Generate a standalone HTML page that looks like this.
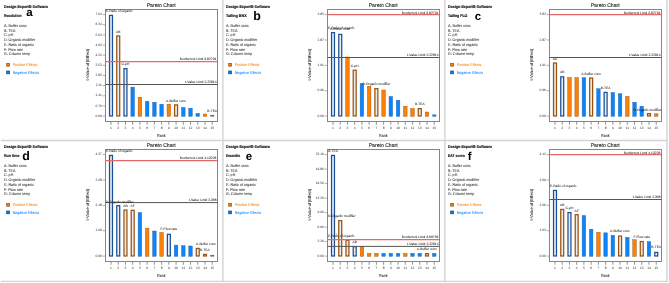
<!DOCTYPE html>
<html><head><meta charset="utf-8"><style>
html,body{margin:0;padding:0;background:#fff;width:669px;height:283px;overflow:hidden}
svg{display:block;will-change:transform}
text{font-family:"Liberation Sans", sans-serif;fill:#222;text-rendering:geometricPrecision}
.hb{font-size:3.95px;font-weight:bold;fill:#111;stroke:#111;stroke-width:0.15px}
.let{font-size:11.5px;font-weight:bold;fill:#000}
.sm{font-size:3.3px;fill:#1e1e1e;stroke:#1e1e1e;stroke-width:0.035px}
.li{font-size:3.95px;fill:#2a2a2a;stroke:#2a2a2a;stroke-width:0.04px}
.tk{font-size:3.3px;fill:#333}
.lim{font-size:3.36px;fill:#222;stroke:#222;stroke-width:0.04px}
.ttl{font-size:5.45px;fill:#1a1a1a;stroke:#1a1a1a;stroke-width:0.1px}
.ax{font-size:4.2px;fill:#1e1e1e;stroke:#1e1e1e;stroke-width:0.04px}
</style></head><body>
<svg width="669" height="283" viewBox="0 0 669 283">
<rect width="669" height="283" fill="#fff"/>
<g transform="translate(0,0)">
<text x="4" y="7.7" class="hb" textLength="44" lengthAdjust="spacingAndGlyphs">Design-Expert® Software</text>
<text x="4" y="16.9" class="hb" textLength="17.6" lengthAdjust="spacingAndGlyphs">Resolution</text>
<text x="26.299999999999997" y="15.9" class="let" style="font-size:11.5px">a</text>
<text x="4" y="26.75" class="li" textLength="22.67" lengthAdjust="spacingAndGlyphs">A: Buffer conc</text>
<text x="4" y="31.52" class="li" textLength="11.40" lengthAdjust="spacingAndGlyphs">B: TEA</text>
<text x="4" y="36.29" class="li" textLength="9.25" lengthAdjust="spacingAndGlyphs">C: pH</text>
<text x="4" y="41.06" class="li" textLength="31.18" lengthAdjust="spacingAndGlyphs">D: Organic modifier</text>
<text x="4" y="45.83" class="li" textLength="29.78" lengthAdjust="spacingAndGlyphs">E: Ratio of organic</text>
<text x="4" y="50.60" class="li" textLength="19.11" lengthAdjust="spacingAndGlyphs">F: Flow rate</text>
<text x="4" y="55.37" class="li" textLength="26.35" lengthAdjust="spacingAndGlyphs">G: Column temp</text>
<rect x="6.7" y="63.4" width="2.8" height="2.8" fill="#fb8005" stroke="#8a4a10" stroke-width="0.7"/>
<text x="12.7" y="66.0" class="li" style="fill:#fb8005;stroke:#fb8005" textLength="24.68" lengthAdjust="spacingAndGlyphs">Positive Effects</text>
<rect x="6.7" y="71.0" width="2.8" height="2.8" fill="#0a84fa" stroke="#0d3c80" stroke-width="0.7"/>
<text x="12.7" y="73.8" class="li" style="fill:#0a84fa;stroke:#0a84fa" textLength="26.29" lengthAdjust="spacingAndGlyphs">Negative Effects</text>
<text x="146.7" y="6.9" class="ttl" textLength="29" lengthAdjust="spacingAndGlyphs">Pareto Chart</text>
<rect x="105.5" y="9.5" width="112" height="112" fill="#fff" stroke="#858585" stroke-width="1"/>
<text x="101.9" y="15.20" class="tk" text-anchor="end">7.04</text>
<line x1="102.6" y1="14.60" x2="105" y2="14.60" stroke="#777" stroke-width="0.6"/>
<text x="101.9" y="25.35" class="tk" text-anchor="end">6.34</text>
<line x1="102.6" y1="24.75" x2="105" y2="24.75" stroke="#777" stroke-width="0.6"/>
<text x="101.9" y="35.50" class="tk" text-anchor="end">5.63</text>
<line x1="102.6" y1="34.90" x2="105" y2="34.90" stroke="#777" stroke-width="0.6"/>
<text x="101.9" y="45.65" class="tk" text-anchor="end">4.93</text>
<line x1="102.6" y1="45.05" x2="105" y2="45.05" stroke="#777" stroke-width="0.6"/>
<text x="101.9" y="55.80" class="tk" text-anchor="end">4.22</text>
<line x1="102.6" y1="55.20" x2="105" y2="55.20" stroke="#777" stroke-width="0.6"/>
<text x="101.9" y="65.95" class="tk" text-anchor="end">3.52</text>
<line x1="102.6" y1="65.35" x2="105" y2="65.35" stroke="#777" stroke-width="0.6"/>
<text x="101.9" y="76.10" class="tk" text-anchor="end">2.82</text>
<line x1="102.6" y1="75.50" x2="105" y2="75.50" stroke="#777" stroke-width="0.6"/>
<text x="101.9" y="86.25" class="tk" text-anchor="end">2.11</text>
<line x1="102.6" y1="85.65" x2="105" y2="85.65" stroke="#777" stroke-width="0.6"/>
<text x="101.9" y="96.40" class="tk" text-anchor="end">1.41</text>
<line x1="102.6" y1="95.80" x2="105" y2="95.80" stroke="#777" stroke-width="0.6"/>
<text x="101.9" y="106.55" class="tk" text-anchor="end">0.70</text>
<line x1="102.6" y1="105.95" x2="105" y2="105.95" stroke="#777" stroke-width="0.6"/>
<text x="101.9" y="116.70" class="tk" text-anchor="end">0.00</text>
<line x1="102.6" y1="116.10" x2="105" y2="116.10" stroke="#777" stroke-width="0.6"/>
<rect x="109.53" y="15.43" width="2.95" height="100.55" fill="#ececec" stroke="#1a4f9c" stroke-width="1.25"/>
<line x1="111.00" y1="122" x2="111.00" y2="124.8" stroke="#666" stroke-width="0.7"/>
<text x="111.00" y="128.6" class="tk" text-anchor="middle">1</text>
<rect x="116.76" y="35.92" width="2.95" height="80.05" fill="#ececec" stroke="#9a5210" stroke-width="1.25"/>
<line x1="118.23" y1="122" x2="118.23" y2="124.8" stroke="#666" stroke-width="0.7"/>
<text x="118.23" y="128.6" class="tk" text-anchor="middle">2</text>
<rect x="123.99" y="68.62" width="2.95" height="47.35" fill="#ececec" stroke="#1a4f9c" stroke-width="1.25"/>
<line x1="125.46" y1="122" x2="125.46" y2="124.8" stroke="#666" stroke-width="0.7"/>
<text x="125.46" y="128.6" class="tk" text-anchor="middle">3</text>
<rect x="130.89" y="87.10" width="3.6" height="29.30" fill="#0a84fa" stroke="#2a64b0" stroke-width="0.4"/>
<line x1="132.69" y1="122" x2="132.69" y2="124.8" stroke="#666" stroke-width="0.7"/>
<text x="132.69" y="128.6" class="tk" text-anchor="middle">4</text>
<rect x="138.12" y="97.20" width="3.6" height="19.20" fill="#fb8005" stroke="#9a5010" stroke-width="0.4"/>
<line x1="139.92" y1="122" x2="139.92" y2="124.8" stroke="#666" stroke-width="0.7"/>
<text x="139.92" y="128.6" class="tk" text-anchor="middle">5</text>
<rect x="145.35" y="101.20" width="3.6" height="15.20" fill="#0a84fa" stroke="#2a64b0" stroke-width="0.4"/>
<line x1="147.15" y1="122" x2="147.15" y2="124.8" stroke="#666" stroke-width="0.7"/>
<text x="147.15" y="128.6" class="tk" text-anchor="middle">6</text>
<rect x="152.58" y="102.20" width="3.6" height="14.20" fill="#0a84fa" stroke="#2a64b0" stroke-width="0.4"/>
<line x1="154.38" y1="122" x2="154.38" y2="124.8" stroke="#666" stroke-width="0.7"/>
<text x="154.38" y="128.6" class="tk" text-anchor="middle">7</text>
<rect x="159.81" y="104.20" width="3.6" height="12.20" fill="#0a84fa" stroke="#2a64b0" stroke-width="0.4"/>
<line x1="161.61" y1="122" x2="161.61" y2="124.8" stroke="#666" stroke-width="0.7"/>
<text x="161.61" y="128.6" class="tk" text-anchor="middle">8</text>
<rect x="167.04" y="104.20" width="3.6" height="12.20" fill="#fb8005" stroke="#9a5010" stroke-width="0.4"/>
<line x1="168.84" y1="122" x2="168.84" y2="124.8" stroke="#666" stroke-width="0.7"/>
<text x="168.84" y="128.6" class="tk" text-anchor="middle">9</text>
<rect x="174.59" y="104.92" width="2.95" height="11.05" fill="#ececec" stroke="#9a5210" stroke-width="1.25"/>
<line x1="176.07" y1="122" x2="176.07" y2="124.8" stroke="#666" stroke-width="0.7"/>
<text x="176.07" y="128.6" class="tk" text-anchor="middle">10</text>
<rect x="181.50" y="107.40" width="3.6" height="9.00" fill="#0a84fa" stroke="#2a64b0" stroke-width="0.4"/>
<line x1="183.30" y1="122" x2="183.30" y2="124.8" stroke="#666" stroke-width="0.7"/>
<text x="183.30" y="128.6" class="tk" text-anchor="middle">11</text>
<rect x="188.73" y="108.20" width="3.6" height="8.20" fill="#0a84fa" stroke="#2a64b0" stroke-width="0.4"/>
<line x1="190.53" y1="122" x2="190.53" y2="124.8" stroke="#666" stroke-width="0.7"/>
<text x="190.53" y="128.6" class="tk" text-anchor="middle">12</text>
<rect x="195.96" y="113.40" width="3.6" height="3.00" fill="#0a84fa" stroke="#2a64b0" stroke-width="0.4"/>
<line x1="197.76" y1="122" x2="197.76" y2="124.8" stroke="#666" stroke-width="0.7"/>
<text x="197.76" y="128.6" class="tk" text-anchor="middle">13</text>
<rect x="203.19" y="114.00" width="3.6" height="2.40" fill="#fb8005" stroke="#9a5010" stroke-width="0.4"/>
<line x1="204.99" y1="122" x2="204.99" y2="124.8" stroke="#666" stroke-width="0.7"/>
<text x="204.99" y="128.6" class="tk" text-anchor="middle">14</text>
<rect x="210.22" y="114.90" width="4" height="1.70" fill="#707070"/>
<line x1="212.22" y1="122" x2="212.22" y2="124.8" stroke="#666" stroke-width="0.7"/>
<text x="212.22" y="128.6" class="tk" text-anchor="middle">15</text>
<line x1="105.5" y1="61.5" x2="217.5" y2="61.5" stroke="#e86868" stroke-width="1.25"/>
<text x="216.4" y="60.00" class="lim" text-anchor="end">Bonferroni Limit 3.82734</text>
<line x1="105.5" y1="84.5" x2="217.5" y2="84.5" stroke="#555" stroke-width="1"/>
<text x="216.6" y="82.70" class="lim" text-anchor="end">t-Value Limit 2.22814</text>
<text x="105.90" y="11.95" class="sm">E-Ratio of organic</text>
<text x="116.03" y="32.75" class="sm">AB</text>
<text x="121.61" y="65.45" class="sm">C-pH</text>
<text x="166.10" y="101.65" class="sm">A-Buffer conc</text>
<text x="207.36" y="112.45" class="sm">B-TEA</text>
<text x="161.3" y="137.2" class="ax" text-anchor="middle" textLength="8.6" lengthAdjust="spacingAndGlyphs">Rank</text>
<text class="ax" text-anchor="middle" transform="translate(88.6,64.7) rotate(-90)">t-Value of |Effect|</text>
</g>
<g transform="translate(222,0)">
<text x="4" y="7.7" class="hb" textLength="44" lengthAdjust="spacingAndGlyphs">Design-Expert® Software</text>
<text x="4" y="16.9" class="hb" textLength="20.7" lengthAdjust="spacingAndGlyphs">Tailing BNX</text>
<text x="31.2" y="19.6" class="let" style="font-size:12.4px">b</text>
<text x="4" y="26.75" class="li" textLength="22.67" lengthAdjust="spacingAndGlyphs">A: Buffer conc</text>
<text x="4" y="31.52" class="li" textLength="11.40" lengthAdjust="spacingAndGlyphs">B: TEA</text>
<text x="4" y="36.29" class="li" textLength="9.25" lengthAdjust="spacingAndGlyphs">C: pH</text>
<text x="4" y="41.06" class="li" textLength="31.18" lengthAdjust="spacingAndGlyphs">D: Organic modifier</text>
<text x="4" y="45.83" class="li" textLength="29.78" lengthAdjust="spacingAndGlyphs">E: Ratio of organic</text>
<text x="4" y="50.60" class="li" textLength="19.11" lengthAdjust="spacingAndGlyphs">F: Flow rate</text>
<text x="4" y="55.37" class="li" textLength="26.35" lengthAdjust="spacingAndGlyphs">G: Column temp</text>
<rect x="6.7" y="63.4" width="2.8" height="2.8" fill="#fb8005" stroke="#8a4a10" stroke-width="0.7"/>
<text x="12.7" y="66.0" class="li" style="fill:#fb8005;stroke:#fb8005" textLength="24.68" lengthAdjust="spacingAndGlyphs">Positive Effects</text>
<rect x="6.7" y="71.0" width="2.8" height="2.8" fill="#0a84fa" stroke="#0d3c80" stroke-width="0.7"/>
<text x="12.7" y="73.8" class="li" style="fill:#0a84fa;stroke:#0a84fa" textLength="26.29" lengthAdjust="spacingAndGlyphs">Negative Effects</text>
<text x="146.7" y="6.9" class="ttl" textLength="29" lengthAdjust="spacingAndGlyphs">Pareto Chart</text>
<rect x="105.5" y="9.5" width="112" height="112" fill="#fff" stroke="#858585" stroke-width="1"/>
<text x="101.9" y="15.20" class="tk" text-anchor="end">3.83</text>
<line x1="102.6" y1="14.60" x2="105" y2="14.60" stroke="#777" stroke-width="0.6"/>
<text x="101.9" y="40.58" class="tk" text-anchor="end">2.87</text>
<line x1="102.6" y1="39.98" x2="105" y2="39.98" stroke="#777" stroke-width="0.6"/>
<text x="101.9" y="65.95" class="tk" text-anchor="end">1.91</text>
<line x1="102.6" y1="65.35" x2="105" y2="65.35" stroke="#777" stroke-width="0.6"/>
<text x="101.9" y="91.32" class="tk" text-anchor="end">0.96</text>
<line x1="102.6" y1="90.72" x2="105" y2="90.72" stroke="#777" stroke-width="0.6"/>
<text x="101.9" y="116.70" class="tk" text-anchor="end">0.00</text>
<line x1="102.6" y1="116.10" x2="105" y2="116.10" stroke="#777" stroke-width="0.6"/>
<rect x="109.53" y="32.62" width="2.95" height="83.35" fill="#ececec" stroke="#1a4f9c" stroke-width="1.25"/>
<line x1="111.00" y1="122" x2="111.00" y2="124.8" stroke="#666" stroke-width="0.7"/>
<text x="111.00" y="128.6" class="tk" text-anchor="middle">1</text>
<rect x="116.76" y="34.42" width="2.95" height="81.55" fill="#ececec" stroke="#1a4f9c" stroke-width="1.25"/>
<line x1="118.23" y1="122" x2="118.23" y2="124.8" stroke="#666" stroke-width="0.7"/>
<text x="118.23" y="128.6" class="tk" text-anchor="middle">2</text>
<rect x="123.66" y="57.00" width="3.6" height="59.40" fill="#fb8005" stroke="#9a5010" stroke-width="0.4"/>
<line x1="125.46" y1="122" x2="125.46" y2="124.8" stroke="#666" stroke-width="0.7"/>
<text x="125.46" y="128.6" class="tk" text-anchor="middle">3</text>
<rect x="131.22" y="70.22" width="2.95" height="45.75" fill="#ececec" stroke="#9a5210" stroke-width="1.25"/>
<line x1="132.69" y1="122" x2="132.69" y2="124.8" stroke="#666" stroke-width="0.7"/>
<text x="132.69" y="128.6" class="tk" text-anchor="middle">4</text>
<rect x="138.12" y="83.40" width="3.6" height="33.00" fill="#0a84fa" stroke="#2a64b0" stroke-width="0.4"/>
<line x1="139.92" y1="122" x2="139.92" y2="124.8" stroke="#666" stroke-width="0.7"/>
<text x="139.92" y="128.6" class="tk" text-anchor="middle">5</text>
<rect x="145.35" y="86.20" width="3.6" height="30.20" fill="#fb8005" stroke="#9a5010" stroke-width="0.4"/>
<line x1="147.15" y1="122" x2="147.15" y2="124.8" stroke="#666" stroke-width="0.7"/>
<text x="147.15" y="128.6" class="tk" text-anchor="middle">6</text>
<rect x="152.91" y="88.62" width="2.95" height="27.35" fill="#ececec" stroke="#9a5210" stroke-width="1.25"/>
<line x1="154.38" y1="122" x2="154.38" y2="124.8" stroke="#666" stroke-width="0.7"/>
<text x="154.38" y="128.6" class="tk" text-anchor="middle">7</text>
<rect x="159.81" y="90.00" width="3.6" height="26.40" fill="#fb8005" stroke="#9a5010" stroke-width="0.4"/>
<line x1="161.61" y1="122" x2="161.61" y2="124.8" stroke="#666" stroke-width="0.7"/>
<text x="161.61" y="128.6" class="tk" text-anchor="middle">8</text>
<rect x="167.04" y="96.40" width="3.6" height="20.00" fill="#0a84fa" stroke="#2a64b0" stroke-width="0.4"/>
<line x1="168.84" y1="122" x2="168.84" y2="124.8" stroke="#666" stroke-width="0.7"/>
<text x="168.84" y="128.6" class="tk" text-anchor="middle">9</text>
<rect x="174.27" y="100.20" width="3.6" height="16.20" fill="#0a84fa" stroke="#2a64b0" stroke-width="0.4"/>
<line x1="176.07" y1="122" x2="176.07" y2="124.8" stroke="#666" stroke-width="0.7"/>
<text x="176.07" y="128.6" class="tk" text-anchor="middle">10</text>
<rect x="181.50" y="106.20" width="3.6" height="10.20" fill="#fb8005" stroke="#9a5010" stroke-width="0.4"/>
<line x1="183.30" y1="122" x2="183.30" y2="124.8" stroke="#666" stroke-width="0.7"/>
<text x="183.30" y="128.6" class="tk" text-anchor="middle">11</text>
<rect x="188.73" y="108.50" width="3.6" height="7.90" fill="#fb8005" stroke="#9a5010" stroke-width="0.4"/>
<line x1="190.53" y1="122" x2="190.53" y2="124.8" stroke="#666" stroke-width="0.7"/>
<text x="190.53" y="128.6" class="tk" text-anchor="middle">12</text>
<rect x="196.28" y="108.62" width="2.95" height="7.35" fill="#ececec" stroke="#9a5210" stroke-width="1.25"/>
<line x1="197.76" y1="122" x2="197.76" y2="124.8" stroke="#666" stroke-width="0.7"/>
<text x="197.76" y="128.6" class="tk" text-anchor="middle">13</text>
<rect x="203.19" y="112.00" width="3.6" height="4.40" fill="#fb8005" stroke="#9a5010" stroke-width="0.4"/>
<line x1="204.99" y1="122" x2="204.99" y2="124.8" stroke="#666" stroke-width="0.7"/>
<text x="204.99" y="128.6" class="tk" text-anchor="middle">14</text>
<rect x="210.42" y="114.80" width="3.6" height="1.60" fill="#0a84fa" stroke="#2a64b0" stroke-width="0.4"/>
<line x1="212.22" y1="122" x2="212.22" y2="124.8" stroke="#666" stroke-width="0.7"/>
<text x="212.22" y="128.6" class="tk" text-anchor="middle">15</text>
<line x1="105.5" y1="14.6" x2="217.5" y2="14.6" stroke="#e86868" stroke-width="1.25"/>
<text x="216.4" y="13.50" class="lim" text-anchor="end">Bonferroni Limit 3.82734</text>
<line x1="105.5" y1="57.5" x2="217.5" y2="57.5" stroke="#555" stroke-width="1"/>
<text x="216.6" y="55.70" class="lim" text-anchor="end">t-Value Limit 2.22814</text>
<text x="105.90" y="28.75" class="sm">E-Ratio of organic</text>
<text x="108.26" y="30.15" class="sm">A-Buffer conc</text>
<text x="128.84" y="66.95" class="sm">C-pH</text>
<text x="140.54" y="84.85" class="sm">D-Organic modifier</text>
<text x="192.90" y="105.45" class="sm">B-TEA</text>
<text x="161.3" y="137.2" class="ax" text-anchor="middle" textLength="8.6" lengthAdjust="spacingAndGlyphs">Rank</text>
<text class="ax" text-anchor="middle" transform="translate(88.6,64.7) rotate(-90)">t-Value of |Effect|</text>
</g>
<g transform="translate(444,0)">
<text x="4" y="7.7" class="hb" textLength="44" lengthAdjust="spacingAndGlyphs">Design-Expert® Software</text>
<text x="4" y="16.9" class="hb" textLength="19.4" lengthAdjust="spacingAndGlyphs">Tailing FLO</text>
<text x="30.799999999999997" y="19.9" class="let" style="font-size:11.5px">c</text>
<text x="4" y="26.75" class="li" textLength="22.67" lengthAdjust="spacingAndGlyphs">A: Buffer conc</text>
<text x="4" y="31.52" class="li" textLength="11.40" lengthAdjust="spacingAndGlyphs">B: TEA</text>
<text x="4" y="36.29" class="li" textLength="9.25" lengthAdjust="spacingAndGlyphs">C: pH</text>
<text x="4" y="41.06" class="li" textLength="31.18" lengthAdjust="spacingAndGlyphs">D: Organic modifier</text>
<text x="4" y="45.83" class="li" textLength="29.78" lengthAdjust="spacingAndGlyphs">E: Ratio of organic</text>
<text x="4" y="50.60" class="li" textLength="19.11" lengthAdjust="spacingAndGlyphs">F: Flow rate</text>
<text x="4" y="55.37" class="li" textLength="26.35" lengthAdjust="spacingAndGlyphs">G: Column temp</text>
<rect x="6.7" y="63.4" width="2.8" height="2.8" fill="#fb8005" stroke="#8a4a10" stroke-width="0.7"/>
<text x="12.7" y="66.0" class="li" style="fill:#fb8005;stroke:#fb8005" textLength="24.68" lengthAdjust="spacingAndGlyphs">Positive Effects</text>
<rect x="6.7" y="71.0" width="2.8" height="2.8" fill="#0a84fa" stroke="#0d3c80" stroke-width="0.7"/>
<text x="12.7" y="73.8" class="li" style="fill:#0a84fa;stroke:#0a84fa" textLength="26.29" lengthAdjust="spacingAndGlyphs">Negative Effects</text>
<text x="146.7" y="6.9" class="ttl" textLength="29" lengthAdjust="spacingAndGlyphs">Pareto Chart</text>
<rect x="105.5" y="9.5" width="112" height="112" fill="#fff" stroke="#858585" stroke-width="1"/>
<text x="101.9" y="15.20" class="tk" text-anchor="end">3.83</text>
<line x1="102.6" y1="14.60" x2="105" y2="14.60" stroke="#777" stroke-width="0.6"/>
<text x="101.9" y="40.58" class="tk" text-anchor="end">2.87</text>
<line x1="102.6" y1="39.98" x2="105" y2="39.98" stroke="#777" stroke-width="0.6"/>
<text x="101.9" y="65.95" class="tk" text-anchor="end">1.91</text>
<line x1="102.6" y1="65.35" x2="105" y2="65.35" stroke="#777" stroke-width="0.6"/>
<text x="101.9" y="91.32" class="tk" text-anchor="end">0.96</text>
<line x1="102.6" y1="90.72" x2="105" y2="90.72" stroke="#777" stroke-width="0.6"/>
<text x="101.9" y="116.70" class="tk" text-anchor="end">0.00</text>
<line x1="102.6" y1="116.10" x2="105" y2="116.10" stroke="#777" stroke-width="0.6"/>
<rect x="109.53" y="63.02" width="2.95" height="52.95" fill="#ececec" stroke="#9a5210" stroke-width="1.25"/>
<line x1="111.00" y1="122" x2="111.00" y2="124.8" stroke="#666" stroke-width="0.7"/>
<text x="111.00" y="128.6" class="tk" text-anchor="middle">1</text>
<rect x="116.76" y="76.83" width="2.95" height="39.15" fill="#ececec" stroke="#1a4f9c" stroke-width="1.25"/>
<line x1="118.23" y1="122" x2="118.23" y2="124.8" stroke="#666" stroke-width="0.7"/>
<text x="118.23" y="128.6" class="tk" text-anchor="middle">2</text>
<rect x="123.66" y="77.40" width="3.6" height="39.00" fill="#fb8005" stroke="#9a5010" stroke-width="0.4"/>
<line x1="125.46" y1="122" x2="125.46" y2="124.8" stroke="#666" stroke-width="0.7"/>
<text x="125.46" y="128.6" class="tk" text-anchor="middle">3</text>
<rect x="130.89" y="77.60" width="3.6" height="38.80" fill="#fb8005" stroke="#9a5010" stroke-width="0.4"/>
<line x1="132.69" y1="122" x2="132.69" y2="124.8" stroke="#666" stroke-width="0.7"/>
<text x="132.69" y="128.6" class="tk" text-anchor="middle">4</text>
<rect x="138.12" y="77.60" width="3.6" height="38.80" fill="#0a84fa" stroke="#2a64b0" stroke-width="0.4"/>
<line x1="139.92" y1="122" x2="139.92" y2="124.8" stroke="#666" stroke-width="0.7"/>
<text x="139.92" y="128.6" class="tk" text-anchor="middle">5</text>
<rect x="145.68" y="78.03" width="2.95" height="37.95" fill="#ececec" stroke="#9a5210" stroke-width="1.25"/>
<line x1="147.15" y1="122" x2="147.15" y2="124.8" stroke="#666" stroke-width="0.7"/>
<text x="147.15" y="128.6" class="tk" text-anchor="middle">6</text>
<rect x="152.58" y="88.70" width="3.6" height="27.70" fill="#0a84fa" stroke="#2a64b0" stroke-width="0.4"/>
<line x1="154.38" y1="122" x2="154.38" y2="124.8" stroke="#666" stroke-width="0.7"/>
<text x="154.38" y="128.6" class="tk" text-anchor="middle">7</text>
<rect x="160.14" y="92.42" width="2.95" height="23.55" fill="#ececec" stroke="#1a4f9c" stroke-width="1.25"/>
<line x1="161.61" y1="122" x2="161.61" y2="124.8" stroke="#666" stroke-width="0.7"/>
<text x="161.61" y="128.6" class="tk" text-anchor="middle">8</text>
<rect x="167.04" y="92.40" width="3.6" height="24.00" fill="#0a84fa" stroke="#2a64b0" stroke-width="0.4"/>
<line x1="168.84" y1="122" x2="168.84" y2="124.8" stroke="#666" stroke-width="0.7"/>
<text x="168.84" y="128.6" class="tk" text-anchor="middle">9</text>
<rect x="174.27" y="93.70" width="3.6" height="22.70" fill="#0a84fa" stroke="#2a64b0" stroke-width="0.4"/>
<line x1="176.07" y1="122" x2="176.07" y2="124.8" stroke="#666" stroke-width="0.7"/>
<text x="176.07" y="128.6" class="tk" text-anchor="middle">10</text>
<rect x="181.50" y="96.40" width="3.6" height="20.00" fill="#fb8005" stroke="#9a5010" stroke-width="0.4"/>
<line x1="183.30" y1="122" x2="183.30" y2="124.8" stroke="#666" stroke-width="0.7"/>
<text x="183.30" y="128.6" class="tk" text-anchor="middle">11</text>
<rect x="188.73" y="102.20" width="3.6" height="14.20" fill="#0a84fa" stroke="#2a64b0" stroke-width="0.4"/>
<line x1="190.53" y1="122" x2="190.53" y2="124.8" stroke="#666" stroke-width="0.7"/>
<text x="190.53" y="128.6" class="tk" text-anchor="middle">12</text>
<rect x="195.96" y="106.20" width="3.6" height="10.20" fill="#0a84fa" stroke="#2a64b0" stroke-width="0.4"/>
<line x1="197.76" y1="122" x2="197.76" y2="124.8" stroke="#666" stroke-width="0.7"/>
<text x="197.76" y="128.6" class="tk" text-anchor="middle">13</text>
<rect x="203.52" y="113.62" width="2.95" height="2.35" fill="#ececec" stroke="#9a5210" stroke-width="1.25"/>
<line x1="204.99" y1="122" x2="204.99" y2="124.8" stroke="#666" stroke-width="0.7"/>
<text x="204.99" y="128.6" class="tk" text-anchor="middle">14</text>
<rect x="210.42" y="113.80" width="3.6" height="2.60" fill="#fb8005" stroke="#9a5010" stroke-width="0.4"/>
<line x1="212.22" y1="122" x2="212.22" y2="124.8" stroke="#666" stroke-width="0.7"/>
<text x="212.22" y="128.6" class="tk" text-anchor="middle">15</text>
<line x1="105.5" y1="14.6" x2="217.5" y2="14.6" stroke="#e86868" stroke-width="1.25"/>
<text x="216.4" y="13.50" class="lim" text-anchor="end">Bonferroni Limit 3.82734</text>
<line x1="105.5" y1="57.5" x2="217.5" y2="57.5" stroke="#555" stroke-width="1"/>
<text x="216.6" y="55.70" class="lim" text-anchor="end">t-Value Limit 2.22814</text>
<text x="108.71" y="59.85" class="sm">AC</text>
<text x="116.03" y="72.95" class="sm">AB</text>
<text x="137.18" y="74.65" class="sm">A-Buffer conc</text>
<text x="156.75" y="88.65" class="sm">B-TEA</text>
<text x="189.51" y="110.65" class="sm">D-Organic modifier</text>
<text x="161.3" y="137.2" class="ax" text-anchor="middle" textLength="8.6" lengthAdjust="spacingAndGlyphs">Rank</text>
<text class="ax" text-anchor="middle" transform="translate(88.6,64.7) rotate(-90)">t-Value of |Effect|</text>
</g>
<g transform="translate(0,140)">
<text x="4" y="7.7" class="hb" textLength="44" lengthAdjust="spacingAndGlyphs">Design-Expert® Software</text>
<text x="4" y="16.9" class="hb" textLength="15.4" lengthAdjust="spacingAndGlyphs">Run time</text>
<text x="22.2" y="19.9" class="let" style="font-size:12.4px">d</text>
<text x="4" y="26.75" class="li" textLength="22.67" lengthAdjust="spacingAndGlyphs">A: Buffer conc</text>
<text x="4" y="31.52" class="li" textLength="11.40" lengthAdjust="spacingAndGlyphs">B: TEA</text>
<text x="4" y="36.29" class="li" textLength="9.25" lengthAdjust="spacingAndGlyphs">C: pH</text>
<text x="4" y="41.06" class="li" textLength="31.18" lengthAdjust="spacingAndGlyphs">D: Organic modifier</text>
<text x="4" y="45.83" class="li" textLength="29.78" lengthAdjust="spacingAndGlyphs">E: Ratio of organic</text>
<text x="4" y="50.60" class="li" textLength="19.11" lengthAdjust="spacingAndGlyphs">F: Flow rate</text>
<text x="4" y="55.37" class="li" textLength="26.35" lengthAdjust="spacingAndGlyphs">G: Column temp</text>
<rect x="6.7" y="63.4" width="2.8" height="2.8" fill="#fb8005" stroke="#8a4a10" stroke-width="0.7"/>
<text x="12.7" y="66.0" class="li" style="fill:#fb8005;stroke:#fb8005" textLength="24.68" lengthAdjust="spacingAndGlyphs">Positive Effects</text>
<rect x="6.7" y="71.0" width="2.8" height="2.8" fill="#0a84fa" stroke="#0d3c80" stroke-width="0.7"/>
<text x="12.7" y="73.8" class="li" style="fill:#0a84fa;stroke:#0a84fa" textLength="26.29" lengthAdjust="spacingAndGlyphs">Negative Effects</text>
<text x="146.7" y="6.9" class="ttl" textLength="29" lengthAdjust="spacingAndGlyphs">Pareto Chart</text>
<rect x="105.5" y="9.5" width="112" height="112" fill="#fff" stroke="#858585" stroke-width="1"/>
<text x="101.9" y="15.20" class="tk" text-anchor="end">4.37</text>
<line x1="102.6" y1="14.60" x2="105" y2="14.60" stroke="#777" stroke-width="0.6"/>
<text x="101.9" y="40.58" class="tk" text-anchor="end">3.28</text>
<line x1="102.6" y1="39.98" x2="105" y2="39.98" stroke="#777" stroke-width="0.6"/>
<text x="101.9" y="65.95" class="tk" text-anchor="end">2.18</text>
<line x1="102.6" y1="65.35" x2="105" y2="65.35" stroke="#777" stroke-width="0.6"/>
<text x="101.9" y="91.32" class="tk" text-anchor="end">1.09</text>
<line x1="102.6" y1="90.72" x2="105" y2="90.72" stroke="#777" stroke-width="0.6"/>
<text x="101.9" y="116.70" class="tk" text-anchor="end">0.00</text>
<line x1="102.6" y1="116.10" x2="105" y2="116.10" stroke="#777" stroke-width="0.6"/>
<rect x="109.53" y="15.43" width="2.95" height="100.55" fill="#ececec" stroke="#1a4f9c" stroke-width="1.25"/>
<line x1="111.00" y1="122" x2="111.00" y2="124.8" stroke="#666" stroke-width="0.7"/>
<text x="111.00" y="128.6" class="tk" text-anchor="middle">1</text>
<rect x="116.76" y="65.62" width="2.95" height="50.35" fill="#ececec" stroke="#1a4f9c" stroke-width="1.25"/>
<line x1="118.23" y1="122" x2="118.23" y2="124.8" stroke="#666" stroke-width="0.7"/>
<text x="118.23" y="128.6" class="tk" text-anchor="middle">2</text>
<rect x="123.99" y="70.03" width="2.95" height="45.95" fill="#ececec" stroke="#9a5210" stroke-width="1.25"/>
<line x1="125.46" y1="122" x2="125.46" y2="124.8" stroke="#666" stroke-width="0.7"/>
<text x="125.46" y="128.6" class="tk" text-anchor="middle">3</text>
<rect x="131.22" y="70.33" width="2.95" height="45.65" fill="#ececec" stroke="#9a5210" stroke-width="1.25"/>
<line x1="132.69" y1="122" x2="132.69" y2="124.8" stroke="#666" stroke-width="0.7"/>
<text x="132.69" y="128.6" class="tk" text-anchor="middle">4</text>
<rect x="138.12" y="72.50" width="3.6" height="43.90" fill="#0a84fa" stroke="#2a64b0" stroke-width="0.4"/>
<line x1="139.92" y1="122" x2="139.92" y2="124.8" stroke="#666" stroke-width="0.7"/>
<text x="139.92" y="128.6" class="tk" text-anchor="middle">5</text>
<rect x="145.35" y="88.10" width="3.6" height="28.30" fill="#fb8005" stroke="#9a5010" stroke-width="0.4"/>
<line x1="147.15" y1="122" x2="147.15" y2="124.8" stroke="#666" stroke-width="0.7"/>
<text x="147.15" y="128.6" class="tk" text-anchor="middle">6</text>
<rect x="152.58" y="91.00" width="3.6" height="25.40" fill="#0a84fa" stroke="#2a64b0" stroke-width="0.4"/>
<line x1="154.38" y1="122" x2="154.38" y2="124.8" stroke="#666" stroke-width="0.7"/>
<text x="154.38" y="128.6" class="tk" text-anchor="middle">7</text>
<rect x="159.81" y="92.50" width="3.6" height="23.90" fill="#fb8005" stroke="#9a5010" stroke-width="0.4"/>
<line x1="161.61" y1="122" x2="161.61" y2="124.8" stroke="#666" stroke-width="0.7"/>
<text x="161.61" y="128.6" class="tk" text-anchor="middle">8</text>
<rect x="167.37" y="94.33" width="2.95" height="21.65" fill="#ececec" stroke="#1a4f9c" stroke-width="1.25"/>
<line x1="168.84" y1="122" x2="168.84" y2="124.8" stroke="#666" stroke-width="0.7"/>
<text x="168.84" y="128.6" class="tk" text-anchor="middle">9</text>
<rect x="174.27" y="105.10" width="3.6" height="11.30" fill="#0a84fa" stroke="#2a64b0" stroke-width="0.4"/>
<line x1="176.07" y1="122" x2="176.07" y2="124.8" stroke="#666" stroke-width="0.7"/>
<text x="176.07" y="128.6" class="tk" text-anchor="middle">10</text>
<rect x="181.50" y="105.70" width="3.6" height="10.70" fill="#0a84fa" stroke="#2a64b0" stroke-width="0.4"/>
<line x1="183.30" y1="122" x2="183.30" y2="124.8" stroke="#666" stroke-width="0.7"/>
<text x="183.30" y="128.6" class="tk" text-anchor="middle">11</text>
<rect x="188.73" y="106.00" width="3.6" height="10.40" fill="#0a84fa" stroke="#2a64b0" stroke-width="0.4"/>
<line x1="190.53" y1="122" x2="190.53" y2="124.8" stroke="#666" stroke-width="0.7"/>
<text x="190.53" y="128.6" class="tk" text-anchor="middle">12</text>
<rect x="196.28" y="108.42" width="2.95" height="7.55" fill="#ececec" stroke="#9a5210" stroke-width="1.25"/>
<line x1="197.76" y1="122" x2="197.76" y2="124.8" stroke="#666" stroke-width="0.7"/>
<text x="197.76" y="128.6" class="tk" text-anchor="middle">13</text>
<rect x="203.52" y="114.42" width="2.95" height="1.55" fill="#ececec" stroke="#9a5210" stroke-width="1.25"/>
<line x1="204.99" y1="122" x2="204.99" y2="124.8" stroke="#666" stroke-width="0.7"/>
<text x="204.99" y="128.6" class="tk" text-anchor="middle">14</text>
<rect x="210.22" y="114.90" width="4" height="1.70" fill="#707070"/>
<line x1="212.22" y1="122" x2="212.22" y2="124.8" stroke="#666" stroke-width="0.7"/>
<text x="212.22" y="128.6" class="tk" text-anchor="middle">15</text>
<line x1="105.5" y1="20.5" x2="217.5" y2="20.5" stroke="#e86868" stroke-width="1.25"/>
<text x="216.4" y="19.00" class="lim" text-anchor="end">Bonferroni Limit 4.13226</text>
<line x1="105.5" y1="62.6" x2="217.5" y2="62.6" stroke="#555" stroke-width="1"/>
<text x="216.6" y="60.80" class="lim" text-anchor="end">t-Value Limit 2.306</text>
<text x="105.90" y="12.05" class="sm">E-Ratio of organic</text>
<text x="105.90" y="62.65" class="sm">D-Organic modifier</text>
<text x="123.26" y="67.05" class="sm">AB</text>
<text x="130.58" y="66.95" class="sm">AF</text>
<text x="160.50" y="90.45" class="sm">F-Flow rate</text>
<text x="196.08" y="104.95" class="sm">A-Buffer conc</text>
<text x="199.89" y="110.75" class="sm">B-TEA</text>
<text x="161.3" y="137.2" class="ax" text-anchor="middle" textLength="8.6" lengthAdjust="spacingAndGlyphs">Rank</text>
<text class="ax" text-anchor="middle" transform="translate(88.6,64.7) rotate(-90)">t-Value of |Effect|</text>
</g>
<g transform="translate(222,140)">
<text x="4" y="7.7" class="hb" textLength="44" lengthAdjust="spacingAndGlyphs">Design-Expert® Software</text>
<text x="4" y="16.9" class="hb" textLength="14.1" lengthAdjust="spacingAndGlyphs">Ensemble</text>
<text x="23.7" y="19.9" class="let" style="font-size:11.5px">e</text>
<text x="4" y="26.75" class="li" textLength="22.67" lengthAdjust="spacingAndGlyphs">A: Buffer conc</text>
<text x="4" y="31.52" class="li" textLength="11.40" lengthAdjust="spacingAndGlyphs">B: TEA</text>
<text x="4" y="36.29" class="li" textLength="9.25" lengthAdjust="spacingAndGlyphs">C: pH</text>
<text x="4" y="41.06" class="li" textLength="31.18" lengthAdjust="spacingAndGlyphs">D: Organic modifier</text>
<text x="4" y="45.83" class="li" textLength="29.78" lengthAdjust="spacingAndGlyphs">E: Ratio of organic</text>
<text x="4" y="50.60" class="li" textLength="19.11" lengthAdjust="spacingAndGlyphs">F: Flow rate</text>
<text x="4" y="55.37" class="li" textLength="26.35" lengthAdjust="spacingAndGlyphs">G: Column temp</text>
<rect x="6.7" y="63.4" width="2.8" height="2.8" fill="#fb8005" stroke="#8a4a10" stroke-width="0.7"/>
<text x="12.7" y="66.0" class="li" style="fill:#fb8005;stroke:#fb8005" textLength="24.68" lengthAdjust="spacingAndGlyphs">Positive Effects</text>
<rect x="6.7" y="71.0" width="2.8" height="2.8" fill="#0a84fa" stroke="#0d3c80" stroke-width="0.7"/>
<text x="12.7" y="73.8" class="li" style="fill:#0a84fa;stroke:#0a84fa" textLength="26.29" lengthAdjust="spacingAndGlyphs">Negative Effects</text>
<text x="146.7" y="6.9" class="ttl" textLength="29" lengthAdjust="spacingAndGlyphs">Pareto Chart</text>
<rect x="105.5" y="9.5" width="112" height="112" fill="#fff" stroke="#858585" stroke-width="1"/>
<text x="101.9" y="15.20" class="tk" text-anchor="end">23.10</text>
<line x1="102.6" y1="14.60" x2="105" y2="14.60" stroke="#777" stroke-width="0.6"/>
<text x="101.9" y="29.70" class="tk" text-anchor="end">19.80</text>
<line x1="102.6" y1="29.10" x2="105" y2="29.10" stroke="#777" stroke-width="0.6"/>
<text x="101.9" y="44.20" class="tk" text-anchor="end">16.50</text>
<line x1="102.6" y1="43.60" x2="105" y2="43.60" stroke="#777" stroke-width="0.6"/>
<text x="101.9" y="58.70" class="tk" text-anchor="end">13.20</text>
<line x1="102.6" y1="58.10" x2="105" y2="58.10" stroke="#777" stroke-width="0.6"/>
<text x="101.9" y="73.20" class="tk" text-anchor="end">9.90</text>
<line x1="102.6" y1="72.60" x2="105" y2="72.60" stroke="#777" stroke-width="0.6"/>
<text x="101.9" y="87.70" class="tk" text-anchor="end">6.60</text>
<line x1="102.6" y1="87.10" x2="105" y2="87.10" stroke="#777" stroke-width="0.6"/>
<text x="101.9" y="102.20" class="tk" text-anchor="end">3.30</text>
<line x1="102.6" y1="101.60" x2="105" y2="101.60" stroke="#777" stroke-width="0.6"/>
<text x="101.9" y="116.70" class="tk" text-anchor="end">0.00</text>
<line x1="102.6" y1="116.10" x2="105" y2="116.10" stroke="#777" stroke-width="0.6"/>
<rect x="109.53" y="15.43" width="2.95" height="100.55" fill="#ececec" stroke="#1a4f9c" stroke-width="1.25"/>
<line x1="111.00" y1="122" x2="111.00" y2="124.8" stroke="#666" stroke-width="0.7"/>
<text x="111.00" y="128.6" class="tk" text-anchor="middle">1</text>
<rect x="116.76" y="80.62" width="2.95" height="35.35" fill="#ececec" stroke="#9a5210" stroke-width="1.25"/>
<line x1="118.23" y1="122" x2="118.23" y2="124.8" stroke="#666" stroke-width="0.7"/>
<text x="118.23" y="128.6" class="tk" text-anchor="middle">2</text>
<rect x="123.99" y="100.22" width="2.95" height="15.75" fill="#ececec" stroke="#9a5210" stroke-width="1.25"/>
<line x1="125.46" y1="122" x2="125.46" y2="124.8" stroke="#666" stroke-width="0.7"/>
<text x="125.46" y="128.6" class="tk" text-anchor="middle">3</text>
<rect x="131.22" y="106.62" width="2.95" height="9.35" fill="#ececec" stroke="#1a4f9c" stroke-width="1.25"/>
<line x1="132.69" y1="122" x2="132.69" y2="124.8" stroke="#666" stroke-width="0.7"/>
<text x="132.69" y="128.6" class="tk" text-anchor="middle">4</text>
<rect x="138.12" y="106.20" width="3.6" height="10.20" fill="#fb8005" stroke="#9a5010" stroke-width="0.4"/>
<line x1="139.92" y1="122" x2="139.92" y2="124.8" stroke="#666" stroke-width="0.7"/>
<text x="139.92" y="128.6" class="tk" text-anchor="middle">5</text>
<rect x="145.35" y="113.30" width="3.6" height="3.10" fill="#fb8005" stroke="#9a5010" stroke-width="0.4"/>
<line x1="147.15" y1="122" x2="147.15" y2="124.8" stroke="#666" stroke-width="0.7"/>
<text x="147.15" y="128.6" class="tk" text-anchor="middle">6</text>
<rect x="152.58" y="113.30" width="3.6" height="3.10" fill="#fb8005" stroke="#9a5010" stroke-width="0.4"/>
<line x1="154.38" y1="122" x2="154.38" y2="124.8" stroke="#666" stroke-width="0.7"/>
<text x="154.38" y="128.6" class="tk" text-anchor="middle">7</text>
<rect x="159.81" y="113.30" width="3.6" height="3.10" fill="#0a84fa" stroke="#2a64b0" stroke-width="0.4"/>
<line x1="161.61" y1="122" x2="161.61" y2="124.8" stroke="#666" stroke-width="0.7"/>
<text x="161.61" y="128.6" class="tk" text-anchor="middle">8</text>
<rect x="167.04" y="113.30" width="3.6" height="3.10" fill="#0a84fa" stroke="#2a64b0" stroke-width="0.4"/>
<line x1="168.84" y1="122" x2="168.84" y2="124.8" stroke="#666" stroke-width="0.7"/>
<text x="168.84" y="128.6" class="tk" text-anchor="middle">9</text>
<rect x="174.27" y="113.30" width="3.6" height="3.10" fill="#0a84fa" stroke="#2a64b0" stroke-width="0.4"/>
<line x1="176.07" y1="122" x2="176.07" y2="124.8" stroke="#666" stroke-width="0.7"/>
<text x="176.07" y="128.6" class="tk" text-anchor="middle">10</text>
<rect x="181.50" y="113.30" width="3.6" height="3.10" fill="#fb8005" stroke="#9a5010" stroke-width="0.4"/>
<line x1="183.30" y1="122" x2="183.30" y2="124.8" stroke="#666" stroke-width="0.7"/>
<text x="183.30" y="128.6" class="tk" text-anchor="middle">11</text>
<rect x="188.73" y="113.30" width="3.6" height="3.10" fill="#0a84fa" stroke="#2a64b0" stroke-width="0.4"/>
<line x1="190.53" y1="122" x2="190.53" y2="124.8" stroke="#666" stroke-width="0.7"/>
<text x="190.53" y="128.6" class="tk" text-anchor="middle">12</text>
<rect x="195.96" y="113.30" width="3.6" height="3.10" fill="#0a84fa" stroke="#2a64b0" stroke-width="0.4"/>
<line x1="197.76" y1="122" x2="197.76" y2="124.8" stroke="#666" stroke-width="0.7"/>
<text x="197.76" y="128.6" class="tk" text-anchor="middle">13</text>
<rect x="203.52" y="113.72" width="2.95" height="2.25" fill="#ececec" stroke="#9a5210" stroke-width="1.25"/>
<line x1="204.99" y1="122" x2="204.99" y2="124.8" stroke="#666" stroke-width="0.7"/>
<text x="204.99" y="128.6" class="tk" text-anchor="middle">14</text>
<rect x="210.42" y="113.30" width="3.6" height="3.10" fill="#0a84fa" stroke="#2a64b0" stroke-width="0.4"/>
<line x1="212.22" y1="122" x2="212.22" y2="124.8" stroke="#666" stroke-width="0.7"/>
<text x="212.22" y="128.6" class="tk" text-anchor="middle">15</text>
<line x1="105.5" y1="99.5" x2="217.5" y2="99.5" stroke="#e86868" stroke-width="1.25"/>
<text x="216.4" y="98.00" class="lim" text-anchor="end">Bonferroni Limit 3.60756</text>
<line x1="105.5" y1="106.4" x2="217.5" y2="106.4" stroke="#555" stroke-width="1"/>
<text x="216.6" y="104.60" class="lim" text-anchor="end">t-Value Limit 2.22814</text>
<text x="106.14" y="11.55" class="sm">B-TEA</text>
<text x="105.90" y="77.25" class="sm">D-Organic modifier</text>
<text x="105.90" y="96.95" class="sm">E-Ratio of organic</text>
<text x="130.49" y="103.45" class="sm">AB</text>
<text x="195.02" y="110.15" class="sm">A-Buffer conc</text>
<text x="161.3" y="137.2" class="ax" text-anchor="middle" textLength="8.6" lengthAdjust="spacingAndGlyphs">Rank</text>
<text class="ax" text-anchor="middle" transform="translate(88.6,64.7) rotate(-90)">t-Value of |Effect|</text>
</g>
<g transform="translate(444,140)">
<text x="4" y="7.7" class="hb" textLength="44" lengthAdjust="spacingAndGlyphs">Design-Expert® Software</text>
<text x="4" y="16.9" class="hb" textLength="16.8" lengthAdjust="spacingAndGlyphs">EAT score</text>
<text x="23.7" y="19.9" class="let" style="font-size:11.5px">f</text>
<text x="4" y="26.75" class="li" textLength="22.67" lengthAdjust="spacingAndGlyphs">A: Buffer conc</text>
<text x="4" y="31.52" class="li" textLength="11.40" lengthAdjust="spacingAndGlyphs">B: TEA</text>
<text x="4" y="36.29" class="li" textLength="9.25" lengthAdjust="spacingAndGlyphs">C: pH</text>
<text x="4" y="41.06" class="li" textLength="31.18" lengthAdjust="spacingAndGlyphs">D: Organic modifier</text>
<text x="4" y="45.83" class="li" textLength="29.78" lengthAdjust="spacingAndGlyphs">E: Ratio of organic</text>
<text x="4" y="50.60" class="li" textLength="19.11" lengthAdjust="spacingAndGlyphs">F: Flow rate</text>
<text x="4" y="55.37" class="li" textLength="26.35" lengthAdjust="spacingAndGlyphs">G: Column temp</text>
<rect x="6.7" y="63.4" width="2.8" height="2.8" fill="#fb8005" stroke="#8a4a10" stroke-width="0.7"/>
<text x="12.7" y="66.0" class="li" style="fill:#fb8005;stroke:#fb8005" textLength="24.68" lengthAdjust="spacingAndGlyphs">Positive Effects</text>
<rect x="6.7" y="71.0" width="2.8" height="2.8" fill="#0a84fa" stroke="#0d3c80" stroke-width="0.7"/>
<text x="12.7" y="73.8" class="li" style="fill:#0a84fa;stroke:#0a84fa" textLength="26.29" lengthAdjust="spacingAndGlyphs">Negative Effects</text>
<text x="146.7" y="6.9" class="ttl" textLength="29" lengthAdjust="spacingAndGlyphs">Pareto Chart</text>
<rect x="105.5" y="9.5" width="112" height="112" fill="#fff" stroke="#858585" stroke-width="1"/>
<text x="101.9" y="15.20" class="tk" text-anchor="end">4.12</text>
<line x1="102.6" y1="14.60" x2="105" y2="14.60" stroke="#777" stroke-width="0.6"/>
<text x="101.9" y="40.58" class="tk" text-anchor="end">3.09</text>
<line x1="102.6" y1="39.98" x2="105" y2="39.98" stroke="#777" stroke-width="0.6"/>
<text x="101.9" y="65.95" class="tk" text-anchor="end">2.06</text>
<line x1="102.6" y1="65.35" x2="105" y2="65.35" stroke="#777" stroke-width="0.6"/>
<text x="101.9" y="91.32" class="tk" text-anchor="end">1.03</text>
<line x1="102.6" y1="90.72" x2="105" y2="90.72" stroke="#777" stroke-width="0.6"/>
<text x="101.9" y="116.70" class="tk" text-anchor="end">0.00</text>
<line x1="102.6" y1="116.10" x2="105" y2="116.10" stroke="#777" stroke-width="0.6"/>
<rect x="109.53" y="50.42" width="2.95" height="65.55" fill="#ececec" stroke="#1a4f9c" stroke-width="1.25"/>
<line x1="111.00" y1="122" x2="111.00" y2="124.8" stroke="#666" stroke-width="0.7"/>
<text x="111.00" y="128.6" class="tk" text-anchor="middle">1</text>
<rect x="116.76" y="69.42" width="2.95" height="46.55" fill="#ececec" stroke="#9a5210" stroke-width="1.25"/>
<line x1="118.23" y1="122" x2="118.23" y2="124.8" stroke="#666" stroke-width="0.7"/>
<text x="118.23" y="128.6" class="tk" text-anchor="middle">2</text>
<rect x="123.99" y="72.62" width="2.95" height="43.35" fill="#ececec" stroke="#1a4f9c" stroke-width="1.25"/>
<line x1="125.46" y1="122" x2="125.46" y2="124.8" stroke="#666" stroke-width="0.7"/>
<text x="125.46" y="128.6" class="tk" text-anchor="middle">3</text>
<rect x="131.22" y="74.72" width="2.95" height="41.25" fill="#ececec" stroke="#9a5210" stroke-width="1.25"/>
<line x1="132.69" y1="122" x2="132.69" y2="124.8" stroke="#666" stroke-width="0.7"/>
<text x="132.69" y="128.6" class="tk" text-anchor="middle">4</text>
<rect x="138.12" y="75.50" width="3.6" height="40.90" fill="#0a84fa" stroke="#2a64b0" stroke-width="0.4"/>
<line x1="139.92" y1="122" x2="139.92" y2="124.8" stroke="#666" stroke-width="0.7"/>
<text x="139.92" y="128.6" class="tk" text-anchor="middle">5</text>
<rect x="145.35" y="89.20" width="3.6" height="27.20" fill="#0a84fa" stroke="#2a64b0" stroke-width="0.4"/>
<line x1="147.15" y1="122" x2="147.15" y2="124.8" stroke="#666" stroke-width="0.7"/>
<text x="147.15" y="128.6" class="tk" text-anchor="middle">6</text>
<rect x="152.58" y="92.30" width="3.6" height="24.10" fill="#fb8005" stroke="#9a5010" stroke-width="0.4"/>
<line x1="154.38" y1="122" x2="154.38" y2="124.8" stroke="#666" stroke-width="0.7"/>
<text x="154.38" y="128.6" class="tk" text-anchor="middle">7</text>
<rect x="159.81" y="92.80" width="3.6" height="23.60" fill="#0a84fa" stroke="#2a64b0" stroke-width="0.4"/>
<line x1="161.61" y1="122" x2="161.61" y2="124.8" stroke="#666" stroke-width="0.7"/>
<text x="161.61" y="128.6" class="tk" text-anchor="middle">8</text>
<rect x="167.04" y="95.30" width="3.6" height="21.10" fill="#0a84fa" stroke="#2a64b0" stroke-width="0.4"/>
<line x1="168.84" y1="122" x2="168.84" y2="124.8" stroke="#666" stroke-width="0.7"/>
<text x="168.84" y="128.6" class="tk" text-anchor="middle">9</text>
<rect x="174.59" y="96.12" width="2.95" height="19.85" fill="#ececec" stroke="#9a5210" stroke-width="1.25"/>
<line x1="176.07" y1="122" x2="176.07" y2="124.8" stroke="#666" stroke-width="0.7"/>
<text x="176.07" y="128.6" class="tk" text-anchor="middle">10</text>
<rect x="181.50" y="97.30" width="3.6" height="19.10" fill="#0a84fa" stroke="#2a64b0" stroke-width="0.4"/>
<line x1="183.30" y1="122" x2="183.30" y2="124.8" stroke="#666" stroke-width="0.7"/>
<text x="183.30" y="128.6" class="tk" text-anchor="middle">11</text>
<rect x="188.73" y="99.70" width="3.6" height="16.70" fill="#fb8005" stroke="#9a5010" stroke-width="0.4"/>
<line x1="190.53" y1="122" x2="190.53" y2="124.8" stroke="#666" stroke-width="0.7"/>
<text x="190.53" y="128.6" class="tk" text-anchor="middle">12</text>
<rect x="196.28" y="101.53" width="2.95" height="14.45" fill="#ececec" stroke="#9a5210" stroke-width="1.25"/>
<line x1="197.76" y1="122" x2="197.76" y2="124.8" stroke="#666" stroke-width="0.7"/>
<text x="197.76" y="128.6" class="tk" text-anchor="middle">13</text>
<rect x="203.19" y="101.60" width="3.6" height="14.80" fill="#0a84fa" stroke="#2a64b0" stroke-width="0.4"/>
<line x1="204.99" y1="122" x2="204.99" y2="124.8" stroke="#666" stroke-width="0.7"/>
<text x="204.99" y="128.6" class="tk" text-anchor="middle">14</text>
<rect x="210.75" y="112.42" width="2.95" height="3.55" fill="#ececec" stroke="#1a4f9c" stroke-width="1.25"/>
<line x1="212.22" y1="122" x2="212.22" y2="124.8" stroke="#666" stroke-width="0.7"/>
<text x="212.22" y="128.6" class="tk" text-anchor="middle">15</text>
<line x1="105.5" y1="14.6" x2="217.5" y2="14.6" stroke="#e86868" stroke-width="1.25"/>
<text x="216.4" y="13.50" class="lim" text-anchor="end">Bonferroni Limit 4.13226</text>
<line x1="105.5" y1="59.5" x2="217.5" y2="59.5" stroke="#555" stroke-width="1"/>
<text x="216.6" y="57.70" class="lim" text-anchor="end">t-Value Limit 2.306</text>
<text x="105.90" y="46.85" class="sm">E-Ratio of organic</text>
<text x="116.03" y="65.85" class="sm">AB</text>
<text x="121.61" y="69.25" class="sm">C-pH</text>
<text x="130.58" y="71.85" class="sm">AF</text>
<text x="166.10" y="91.95" class="sm">A-Buffer conc</text>
<text x="189.42" y="97.85" class="sm">F-Flow rate</text>
<text x="207.36" y="108.15" class="sm">B-TEA</text>
<text x="161.3" y="137.2" class="ax" text-anchor="middle" textLength="8.6" lengthAdjust="spacingAndGlyphs">Rank</text>
<text class="ax" text-anchor="middle" transform="translate(88.6,64.7) rotate(-90)">t-Value of |Effect|</text>
</g>
<line x1="222.9" y1="0" x2="222.9" y2="282" stroke="#d4d4d4" stroke-width="1.4"/>
<line x1="444.9" y1="0" x2="444.9" y2="282" stroke="#d4d4d4" stroke-width="1.4"/>
<line x1="666.9" y1="0" x2="666.9" y2="282" stroke="#d4d4d4" stroke-width="1.4"/>
<line x1="1" y1="140.5" x2="667.5" y2="140.5" stroke="#d4d4d4" stroke-width="1.3"/>
<line x1="1" y1="281.4" x2="667.5" y2="281.4" stroke="#d4d4d4" stroke-width="1.3"/>
</svg>
</body></html>
